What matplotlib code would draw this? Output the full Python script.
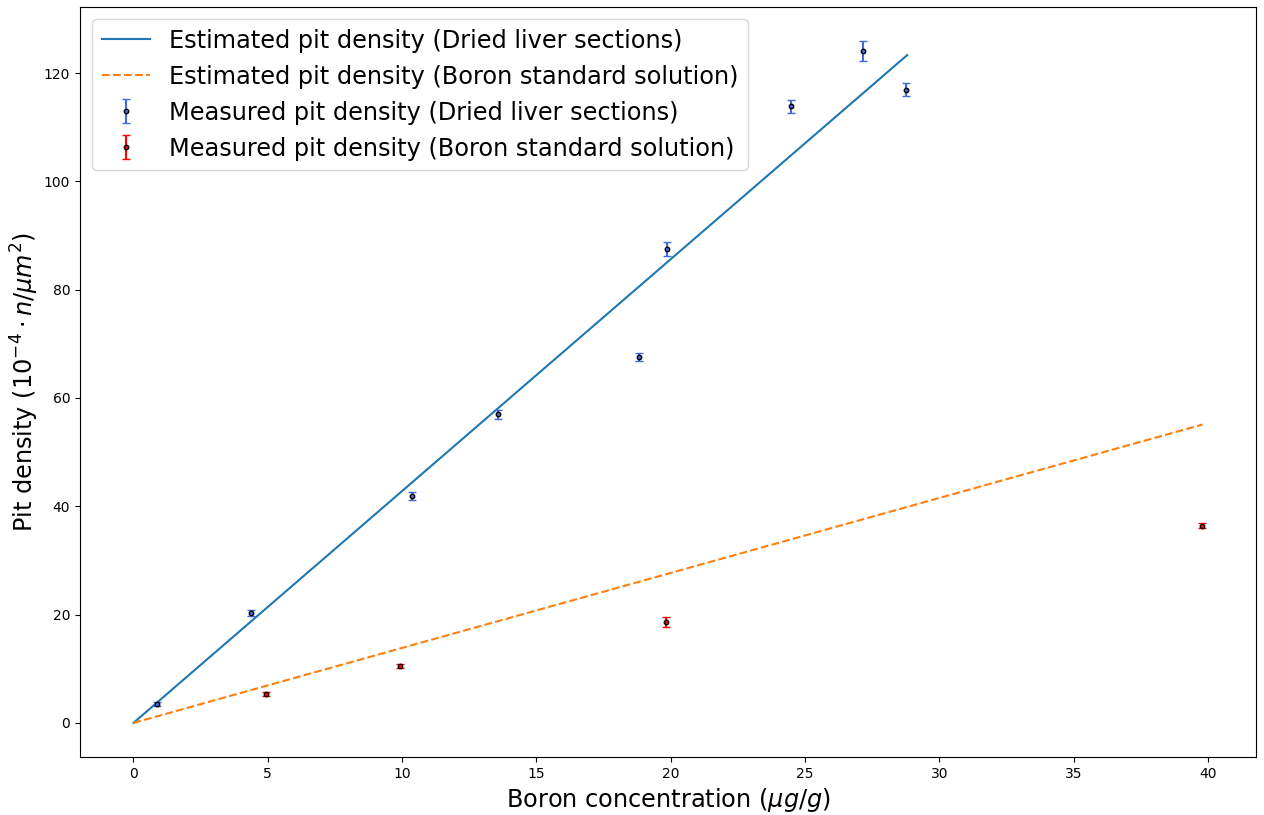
import matplotlib
matplotlib.use('Agg')
import matplotlib.pyplot as plt

# measured pit density, dried liver sections
liver_x = [0.89, 4.39, 10.38, 13.58, 18.83, 19.87, 24.48, 27.16, 28.76]
liver_y = [3.5, 20.3, 41.9, 57.0, 67.6, 87.5, 113.9, 124.1, 116.9]
liver_err = [0.3, 0.5, 0.7, 0.8, 0.7, 1.3, 1.2, 1.8, 1.2]

# measured pit density, boron standard solution
std_x = [4.95, 9.93, 19.83, 39.78]
std_y = [5.35, 10.5, 18.6, 36.4]
std_err = [0.3, 0.35, 0.9, 0.5]

# estimated (fitted) lines
liver_fit_x = [0, 28.8]
liver_fit_y = [0, 123.3]
std_fit_x = [0, 39.8]
std_fit_y = [0, 55.1]


def main():
    fig, ax = plt.subplots(figsize=(12.64, 8.15), dpi=100)
    fig.subplots_adjust(left=0.0633, right=0.9937, bottom=0.0712, top=0.9914)

    ax.plot(liver_fit_x, liver_fit_y, color='tab:blue', lw=1.5,
            label='Estimated pit density (Dried liver sections)')
    ax.plot(std_fit_x, std_fit_y, color='tab:orange', ls='--', lw=1.5,
            label='Estimated pit density (Boron standard solution)')

    ax.errorbar(liver_x, liver_y, yerr=liver_err, fmt='o', ms=3.2,
                mfc='royalblue', mec='black', mew=1.0, ecolor='royalblue',
                elinewidth=1.5, capsize=3,
                label='Measured pit density (Dried liver sections)')
    ax.errorbar(std_x, std_y, yerr=std_err, fmt='o', ms=3.2,
                mfc='red', mec='black', mew=1.0, ecolor='red',
                elinewidth=1.5, capsize=3,
                label='Measured pit density (Boron standard solution)')

    ax.set_xlabel(r'Boron concentration ($\mu g/g$)', fontsize=17.3)
    ax.set_ylabel(r'Pit density ($10^{-4} \cdot n/\mu m^2$)', fontsize=17.3,
                  labelpad=2)
    ax.legend(fontsize=17.3, loc='upper left')

    plt.savefig('out.png')


if __name__ == '__main__':
    main()
